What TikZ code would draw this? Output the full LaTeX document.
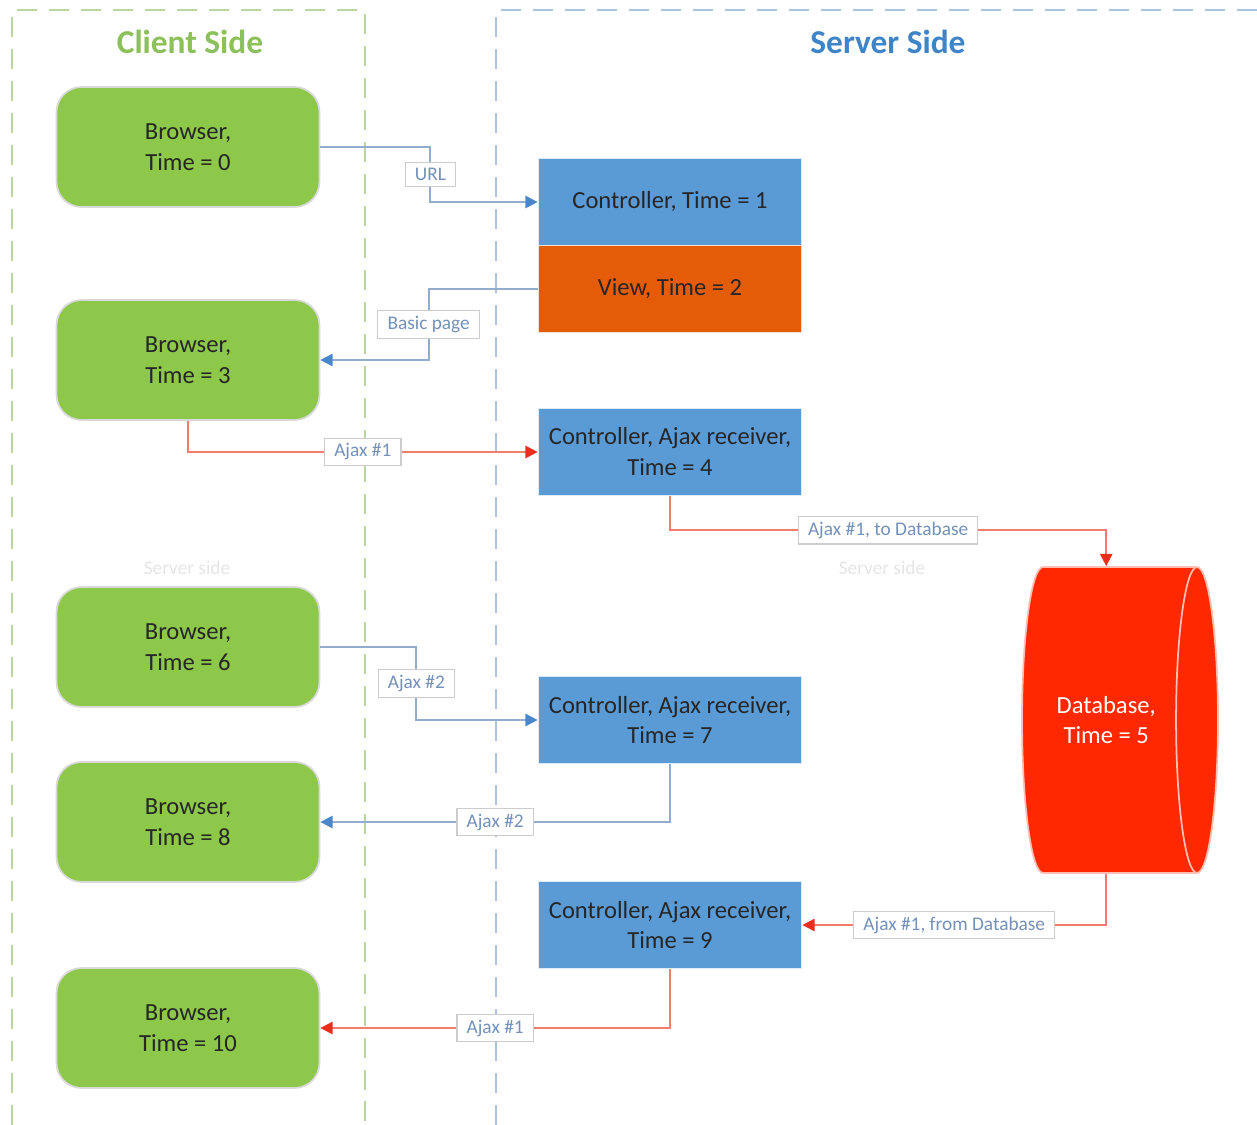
\documentclass[tikz,border=0pt]{standalone}
\usepackage{fontspec}
\setmainfont{Carlito}
\usetikzlibrary{arrows.meta}
\usetikzlibrary{shapes.geometric}

\definecolor{browsergreen}{RGB}{141,200,75}
\definecolor{ctrlblue}{RGB}{91,155,213}
\definecolor{vieworange}{RGB}{228,92,8}
\definecolor{dbred}{RGB}{255,40,0}
\definecolor{clientgreen}{RGB}{140,192,90}
\definecolor{serverblue}{RGB}{62,132,198}
\definecolor{clientdash}{RGB}{185,214,160}
\definecolor{serverdash}{RGB}{170,196,224}
\definecolor{blueline}{RGB}{145,172,205}
\definecolor{bluetip}{RGB}{75,135,200}
\definecolor{redline}{RGB}{240,125,110}
\definecolor{redtip}{RGB}{235,45,30}
\definecolor{labeltext}{RGB}{115,145,185}

\tikzset{
  boxtext/.style={align=center, text=black!85, font=\fontsize{14}{17.6}\selectfont},
  browser/.style={boxtext, rectangle, rounded corners=0.5cm, fill=browsergreen,
    draw=black!15, line width=1pt, minimum width=5.26cm, minimum height=2.4cm},
  ctrl/.style={boxtext, rectangle, fill=ctrlblue, draw=white!80!ctrlblue,
    line width=1pt, minimum width=5.26cm, minimum height=1.74cm},
  viewbox/.style={ctrl, fill=vieworange, draw=white!80!vieworange},
  dbcyl/.style={boxtext, cylinder, shape aspect=0.7, fill=dbred, draw=white!70!dbred,
    line width=1pt, text=white, minimum height=3.92cm, minimum width=6.12cm},
  sidetitle/.style={font=\fontsize{19}{21}\selectfont\bfseries},
  clientbox/.style={draw=clientdash, line width=1.5pt, dash pattern=on 0.4cm off 0.24cm},
  serverbox/.style={draw=serverdash, line width=1.5pt, dash pattern=on 0.4cm off 0.24cm},
  faint/.style={text=black!10, font=\fontsize{11}{13}\selectfont},
  lbl/.style={fill=white, draw=black!20, line width=0.6pt, text=labeltext,
    font=\fontsize{11}{13}\selectfont, inner ysep=3pt, inner xsep=5.5pt},
  blueconn/.style={draw=blueline, line width=1.1pt, -{Triangle[length=7pt,width=7pt,fill=bluetip,color=bluetip]}},
  redconn/.style={draw=redline, line width=1.1pt, -{Triangle[length=7pt,width=7pt,fill=redtip,color=redtip]}}
}

\begin{document}
\begin{tikzpicture}[x=0.02cm,y=-0.02cm]
  \useasboundingbox (0,0) rectangle (1257,1125);

  % client / server areas
  \draw[clientbox] (12,1125) -- (12,10) -- (365,10) -- (365,1125);
  \draw[serverbox] (496,1125) -- (496,10) -- (1257,10);
  \node[sidetitle, text=clientgreen] (clienttitle) at (190,42) {Client Side};
  \node[sidetitle, text=serverblue] (servertitle) at (888,42) {Server Side};
  \node[faint] (faintl) at (187,568) {Server side};
  \node[faint] (faintr) at (882,568) {Server side};

  % client side
  \node[browser] (b0) at (188,147) {Browser,\\Time = 0};
  \node[browser] (b3) at (188,360) {Browser,\\Time = 3};
  \node[browser] (b6) at (188,647) {Browser,\\Time = 6};
  \node[browser] (b8) at (188,822) {Browser,\\Time = 8};
  \node[browser] (b10) at (188,1028) {Browser,\\Time = 10};

  % server side
  \node[ctrl] (c1) at (670,202) {Controller, Time = 1};
  \node[viewbox] (view) at (670,289) {View, Time = 2};
  \node[ctrl] (c4) at (670,452) {Controller, Ajax receiver,\\Time = 4};
  \node[ctrl] (c7) at (670,720) {Controller, Ajax receiver,\\Time = 7};
  \node[ctrl] (c9) at (670,925) {Controller, Ajax receiver,\\Time = 9};
  \node[dbcyl, anchor=shape center] (db) at (1120,720) {Database,\\Time = 5};

  % requests and replies
  \draw[blueconn] (b0.east) -- ++(110,0) |- node[lbl, pos=0.25] (urllbl) {URL} (c1.west);
  \draw[blueconn] (view.west) -- ++(-109,0) |- node[lbl, pos=0.25] (pagelbl) {Basic page} (b3.east);
  \draw[redconn] (b3.south) |- node[lbl, pos=0.75] (ajaxa) {Ajax \#1} (c4.west);
  \draw[redconn] (c4.south) -- ++(0,34) -| node[lbl, pos=0.25] (todb) {Ajax \#1, to Database} (db.north);
  \draw[blueconn] (b6.east) -- ++(96,0) |- node[lbl, pos=0.25] (ajaxb) {Ajax \#2} (c7.west);
  \draw[blueconn] (c7.south) |- node[lbl, pos=0.75] (ajaxc) {Ajax \#2} (b8.east);
  \draw[redconn] (db.south) |- node[lbl, pos=0.75] (fromdb) {Ajax \#1, from Database} (c9.east);
  \draw[redconn] (c9.south) |- node[lbl, pos=0.75] (ajaxd) {Ajax \#1} (b10.east);
\end{tikzpicture}
\end{document}
